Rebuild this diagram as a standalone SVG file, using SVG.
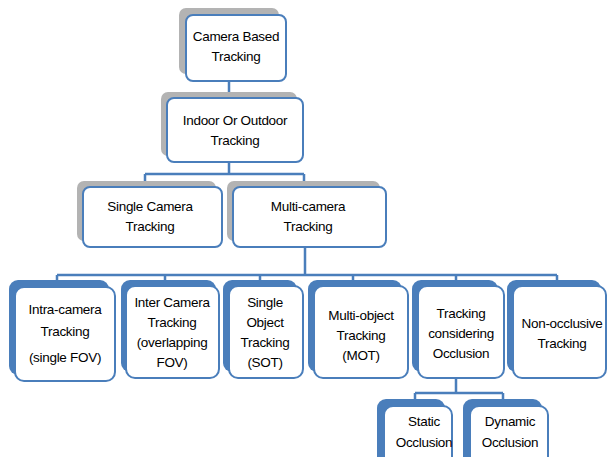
<svg xmlns="http://www.w3.org/2000/svg" width="608" height="457" viewBox="0 0 608 457">
  <style>
    .box { fill: #ffffff; stroke: #4a7ebb; stroke-width: 2; }
    .sh-gray { fill: #b3b3b3; }
    .sh-blue { fill: #4a7ebb; }
    .lbl { font-family: "Liberation Sans", Arial, sans-serif; font-size: 13.5px; letter-spacing: -0.3px; fill: #000000; text-anchor: middle; }
    .wire { fill: none; stroke: #4a7ebb; stroke-width: 2.5; }
  </style>
  <rect width="608" height="457" fill="#ffffff"/>

  <!-- connectors -->
  <g id="connectors">
    <path class="wire" d="M229 81 V98"/>
    <path class="wire" d="M229 162 V174 M145 174 H304 M145 174 V182 M304 174 V182"/>
    <path class="wire" d="M305 247 V275 M57 275 H557 M57 275 V281 M165 275 V281 M260 275 V281 M353 275 V281 M456 275 V281 M557 275 V281"/>
    <path class="wire" d="M456 378 V393 M415 393 H503 M415 393 V400 M503 393 V400"/>
  </g>

  <!-- level 1 -->
  <g id="camera-based">
    <rect class="sh-gray" x="179" y="8" width="100" height="66" rx="7"/>
    <rect class="box" x="186" y="15" width="100" height="66" rx="7"/>
    <text class="lbl" x="236" y="41">Camera Based</text>
    <text class="lbl" x="236" y="61">Tracking</text>
  </g>

  <!-- level 2 -->
  <g id="indoor-outdoor">
    <rect class="sh-gray" x="161" y="92" width="136" height="64" rx="7"/>
    <rect class="box" x="167" y="98" width="136" height="64" rx="7"/>
    <text class="lbl" x="235" y="125">Indoor Or Outdoor</text>
    <text class="lbl" x="235" y="145">Tracking</text>
  </g>

  <!-- level 3 -->
  <g id="single-camera">
    <rect class="sh-gray" x="77" y="181" width="139" height="60" rx="7"/>
    <rect class="box" x="83" y="187" width="139" height="60" rx="7"/>
    <text class="lbl" x="150" y="211">Single Camera</text>
    <text class="lbl" x="150" y="231">Tracking</text>
  </g>
  <g id="multi-camera">
    <rect class="sh-gray" x="227" y="181" width="153" height="60" rx="7"/>
    <rect class="box" x="233" y="187" width="153" height="60" rx="7"/>
    <text class="lbl" x="308" y="211">Multi-camera</text>
    <text class="lbl" x="308" y="231">Tracking</text>
  </g>

  <!-- level 4 -->
  <g id="intra-camera">
    <rect class="sh-blue" x="9" y="280" width="100" height="95" rx="9"/>
    <rect class="box" x="15" y="287" width="100" height="94" rx="9"/>
    <text class="lbl" x="65" y="314">Intra-camera</text>
    <text class="lbl" x="65" y="336">Tracking</text>
    <text class="lbl" x="65" y="362">(single FOV)</text>
  </g>
  <g id="inter-camera">
    <rect class="sh-blue" x="121" y="280" width="95" height="92" rx="9"/>
    <rect class="box" x="126" y="286" width="93" height="92" rx="9"/>
    <text class="lbl" x="172" y="307">Inter Camera</text>
    <text class="lbl" x="172" y="327">Tracking</text>
    <text class="lbl" x="172" y="347">(overlapping</text>
    <text class="lbl" x="172" y="367">FOV)</text>
  </g>
  <g id="sot">
    <rect class="sh-blue" x="223" y="280" width="74" height="92" rx="9"/>
    <rect class="box" x="229" y="286" width="74" height="92" rx="9"/>
    <text class="lbl" x="265" y="307">Single</text>
    <text class="lbl" x="265" y="327">Object</text>
    <text class="lbl" x="265" y="347">Tracking</text>
    <text class="lbl" x="265" y="367">(SOT)</text>
  </g>
  <g id="mot">
    <rect class="sh-blue" x="308" y="280" width="94" height="92" rx="9"/>
    <rect class="box" x="314" y="286" width="94" height="92" rx="9"/>
    <text class="lbl" x="361" y="320">Multi-object</text>
    <text class="lbl" x="361" y="340">Tracking</text>
    <text class="lbl" x="361" y="360">(MOT)</text>
  </g>
  <g id="occlusion">
    <rect class="sh-blue" x="412" y="280" width="86" height="92" rx="9"/>
    <rect class="box" x="418" y="286" width="86" height="92" rx="9"/>
    <text class="lbl" x="461" y="318">Tracking</text>
    <text class="lbl" x="461" y="338">considering</text>
    <text class="lbl" x="461" y="358">Occlusion</text>
  </g>
  <g id="non-occlusive">
    <rect class="sh-blue" x="507" y="280" width="94" height="92" rx="9"/>
    <rect class="box" x="513" y="286" width="93" height="92" rx="9"/>
    <text class="lbl" x="562" y="328">Non-occlusive</text>
    <text class="lbl" x="562" y="348">Tracking</text>
  </g>

  <!-- level 5 -->
  <g id="static-occlusion">
    <rect class="sh-blue" x="377" y="399" width="68" height="70" rx="9"/>
    <rect class="box" x="384" y="406" width="68" height="70" rx="9"/>
    <text class="lbl" x="424" y="426">Static</text>
    <text class="lbl" x="424" y="447">Occlusion</text>
  </g>
  <g id="dynamic-occlusion">
    <rect class="sh-blue" x="463" y="399" width="79" height="70" rx="9"/>
    <rect class="box" x="470" y="406" width="78" height="70" rx="9"/>
    <text class="lbl" x="510" y="426">Dynamic</text>
    <text class="lbl" x="510" y="447">Occlusion</text>
  </g>
</svg>
